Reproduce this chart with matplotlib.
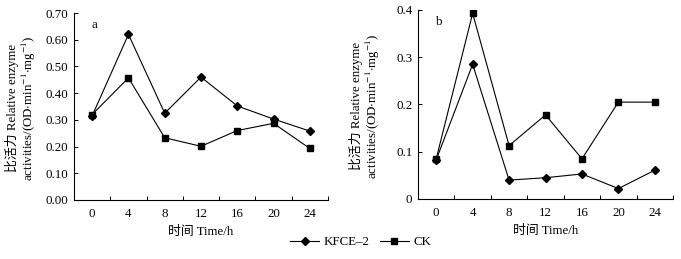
import matplotlib
matplotlib.use("Agg")
import matplotlib.pyplot as plt
import numpy as np

plt.rcParams['font.family'] = ['Liberation Serif', 'Noto Sans CJK SC']
plt.rcParams['mathtext.fontset'] = 'stix'

hours = ["0", "4", "8", "12", "16", "20", "24"]

# panel a
kfce_a = [0.315, 0.620, 0.325, 0.460, 0.352, 0.303, 0.258]
ck_a = [0.320, 0.457, 0.233, 0.201, 0.260, 0.287, 0.193]
yticks_a = [0.0, 0.1, 0.2, 0.3, 0.4, 0.5, 0.6, 0.7]
yticklabels_a = ["0.00", "0.10", "0.20", "0.30", "0.40", "0.50", "0.60", "0.70"]

# panel b
kfce_b = [0.083, 0.285, 0.040, 0.045, 0.053, 0.022, 0.061]
ck_b = [0.085, 0.393, 0.113, 0.178, 0.085, 0.205, 0.205]
yticks_b = [0.0, 0.1, 0.2, 0.3, 0.4]
yticklabels_b = ["0", "0.1", "0.2", "0.3", "0.4"]

fs = 9.3
fig = plt.figure(figsize=(6.81, 2.59), dpi=100)
ax_a = fig.add_axes([0.1087, 0.2278, 0.3729, 0.722])
ax_b = fig.add_axes([0.6138, 0.2317, 0.3745, 0.7297])


def draw_panel(ax, kfce, ck, yticks, ylabels, letter):
    x = np.arange(len(hours))
    l1, = ax.plot(x, kfce, color="black", lw=0.8, marker="D", ms=4.5,
                  label="KFCE\u20132")
    l2, = ax.plot(x, ck, color="black", lw=0.8, marker="s", ms=5,
                  label="CK")
    ax.set_xlim(-0.5, len(hours) - 0.5)
    ax.set_ylim(yticks[0], yticks[-1])
    ax.set_xticks(x)
    ax.set_xticklabels(hours, fontsize=fs)
    ax.set_xticks(np.arange(0.5, len(hours), 1.0), minor=True)
    ax.tick_params(axis="x", which="major", length=0, pad=6)
    ax.tick_params(axis="x", which="minor", direction="in", length=3, width=0.7)
    ax.set_yticks(yticks)
    ax.set_yticklabels(ylabels, fontsize=fs)
    ax.tick_params(axis="y", direction="in", length=3, width=0.7, pad=4)
    for s in ["top", "right"]:
        ax.spines[s].set_visible(False)
    for s in ["left", "bottom"]:
        ax.spines[s].set_linewidth(0.8)
    ax.set_xlabel("时间 Time/h", fontsize=fs, labelpad=4)
    ax.text(0.07, 0.97, letter, transform=ax.transAxes, fontsize=fs,
            va="top", ha="left")
    ax.text(-0.245, 0.49, "比活力 Relative enzyme", transform=ax.transAxes,
            rotation=90, fontsize=fs, va="center", ha="center")
    ax.text(-0.178, 0.49, r"activities/(OD$\cdot$min$^{-1}$$\cdot$mg$^{-1}$)",
            transform=ax.transAxes, rotation=90, fontsize=fs,
            va="center", ha="center")
    return l1, l2


handles = draw_panel(ax_a, kfce_a, ck_a, yticks_a, yticklabels_a, "a")
draw_panel(ax_b, kfce_b, ck_b, yticks_b, yticklabels_b, "b")

fig.legend(handles, [h.get_label() for h in handles], loc="center",
           bbox_to_anchor=(0.53, 0.065), ncol=2, frameon=False, fontsize=fs,
           handlelength=2.2, columnspacing=0.8, handletextpad=0.4)

fig.savefig("out.png", dpi=100)
